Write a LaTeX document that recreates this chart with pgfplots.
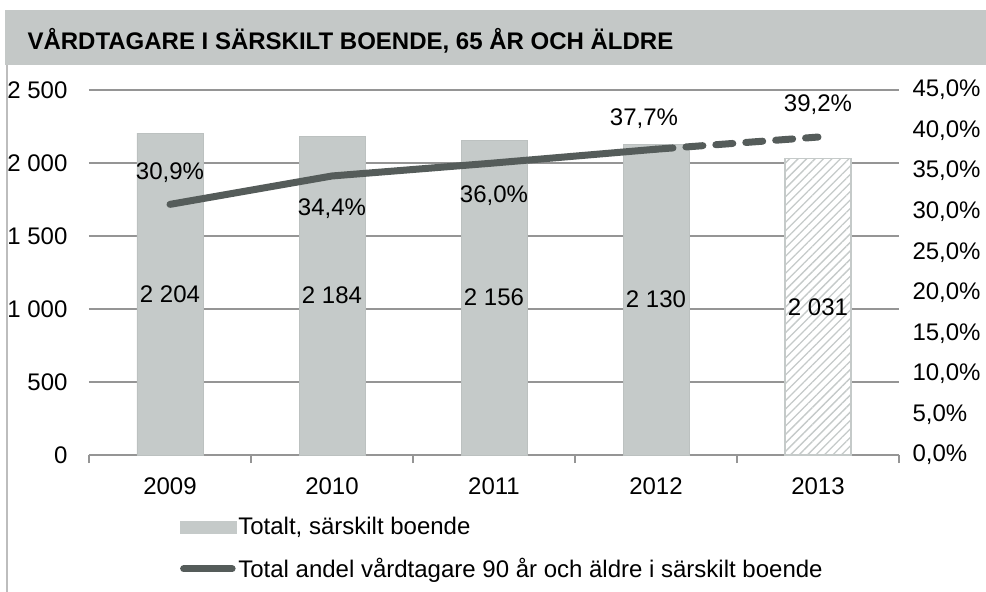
\documentclass[border=0pt]{standalone}
\usepackage{fontspec}
\setmainfont{Liberation Sans}
\usepackage{pgfplots}
\pgfplotsset{compat=1.18}
\usetikzlibrary{patterns.meta}
\definecolor{band}{HTML}{C4C8C7}
\definecolor{barfill}{HTML}{C5CAC9}
\definecolor{baredge}{HTML}{BCC1C0}
\definecolor{linecol}{HTML}{555C5A}
\definecolor{gridcol}{HTML}{959595}
\definecolor{framecol}{HTML}{BDBDBD}

\begin{document}
\begin{tikzpicture}
\path[use as bounding box] (0,0) rectangle (986pt,592pt);
\fill[band] (5pt,527pt) rectangle (986pt,582pt);
\draw[framecol, line width=2pt] (7pt,0) -- (7pt,527pt);
\node[anchor=west, font=\fontsize{24}{28}\selectfont\bfseries] at (24pt,551pt)
  {VÅRDTAGARE I SÄRSKILT BOENDE, 65 ÅR OCH ÄLDRE};

\pgfplotsset{
  base/.style={
    at={(89pt,137pt)}, anchor=south west, scale only axis,
    width=810pt, height=365pt,
    xmin=-0.5, xmax=4.5,
    font=\fontsize{24}{28}\selectfont,
    /pgf/number format/assume math mode=true,
  },
  lab/.style={draw=none, nodes near coords, point meta=explicit symbolic,
    forget plot},
}

% bars, left axis
\begin{axis}[base,
  ymin=0, ymax=2500, ytick={0,500,...,2500},
  axis x line*=bottom, axis y line*=left,
  y axis line style={draw=none},
  x axis line style={gridcol, line width=1.5pt},
  xtick={0,...,4}, xticklabels={2009,2010,2011,2012,2013},
  minor xtick={-0.5,0.5,...,4.5},
  major tick length=0pt, minor tick length=8pt, tick align=outside,
  minor tick style={gridcol, line width=1.5pt},
  ymajorgrids, major grid style={gridcol, line width=1.5pt},
  yticklabel style={xshift=-18pt},
  xticklabel style={yshift=-19pt},
  /pgf/number format/1000 sep={\ },
  legend style={at={(0.112,-0.165)}, anchor=north west, draw=none,
    fill=none, inner sep=0pt, row sep=18pt,
    font=\fontsize{24}{28}\selectfont},
  legend cell align=left,
]
\addplot[ybar, bar width=66pt, bar shift=0pt, fill=barfill, draw=baredge,
  legend image code/.code={\fill[barfill] (0pt,-6pt) rectangle (56pt,6pt);}]
  coordinates {(0,2204) (1,2184) (2,2156) (3,2130)};
\addlegendentry{Totalt, särskilt boende}
\addplot[ybar, bar width=66pt, bar shift=0pt, draw=barfill, line width=1.5pt,
  fill=white,
  postaction={pattern={Lines[angle=45,distance=6pt,line width=1.3pt]},
    pattern color=barfill},
  forget plot]
  coordinates {(4,2031)};
\addplot[lab, every node near coord/.style={anchor=center, inner sep=0pt}]
  coordinates {(0,1102)[2\ 204] (1,1092)[2\ 184] (2,1078)[2\ 156]
               (3,1065)[2\ 130] (4,1015)[2\ 031]};
\addlegendimage{legend image code/.code={\draw[linecol, line width=7pt,
  line cap=round] (3.5pt,0pt) -- (52pt,0pt);}}
\addlegendentry{Total andel vårdtagare 90 år och äldre i särskilt boende}
\end{axis}

% share, right axis
\begin{axis}[base,
  ymin=0, ymax=45, ytick={0,5,...,45},
  axis x line=none, axis y line*=right,
  y axis line style={draw=none}, major tick length=0pt,
  yticklabel={\pgfmathprintnumber[fixed,fixed zerofill,precision=1,use comma]{\tick}\%},
  yticklabel style={anchor=west, xshift=10pt},
]
\addplot[linecol, line width=7pt, line cap=round]
  coordinates {(0,30.9) (1,34.4) (2,36.0) (3,37.7)};
\addplot[linecol, line width=7pt, line cap=round, dash pattern=on 17pt off 13pt]
  coordinates {(3,37.7) (4,39.2)};
\addplot[lab, every node near coord/.style={anchor=south, inner sep=0pt, yshift=22pt}]
  coordinates {(0,30.9)[30,9\%] (4,39.2)[39,2\%]};
\addplot[lab, every node near coord/.style={anchor=south, inner sep=0pt, yshift=20pt, xshift=-12pt}]
  coordinates {(3,37.7)[37,7\%]};
\addplot[lab, every node near coord/.style={anchor=north, inner sep=0pt, yshift=-23pt}]
  coordinates {(1,34.4)[34,4\%] (2,36.0)[36,0\%]};
\end{axis}
\end{tikzpicture}
\end{document}
